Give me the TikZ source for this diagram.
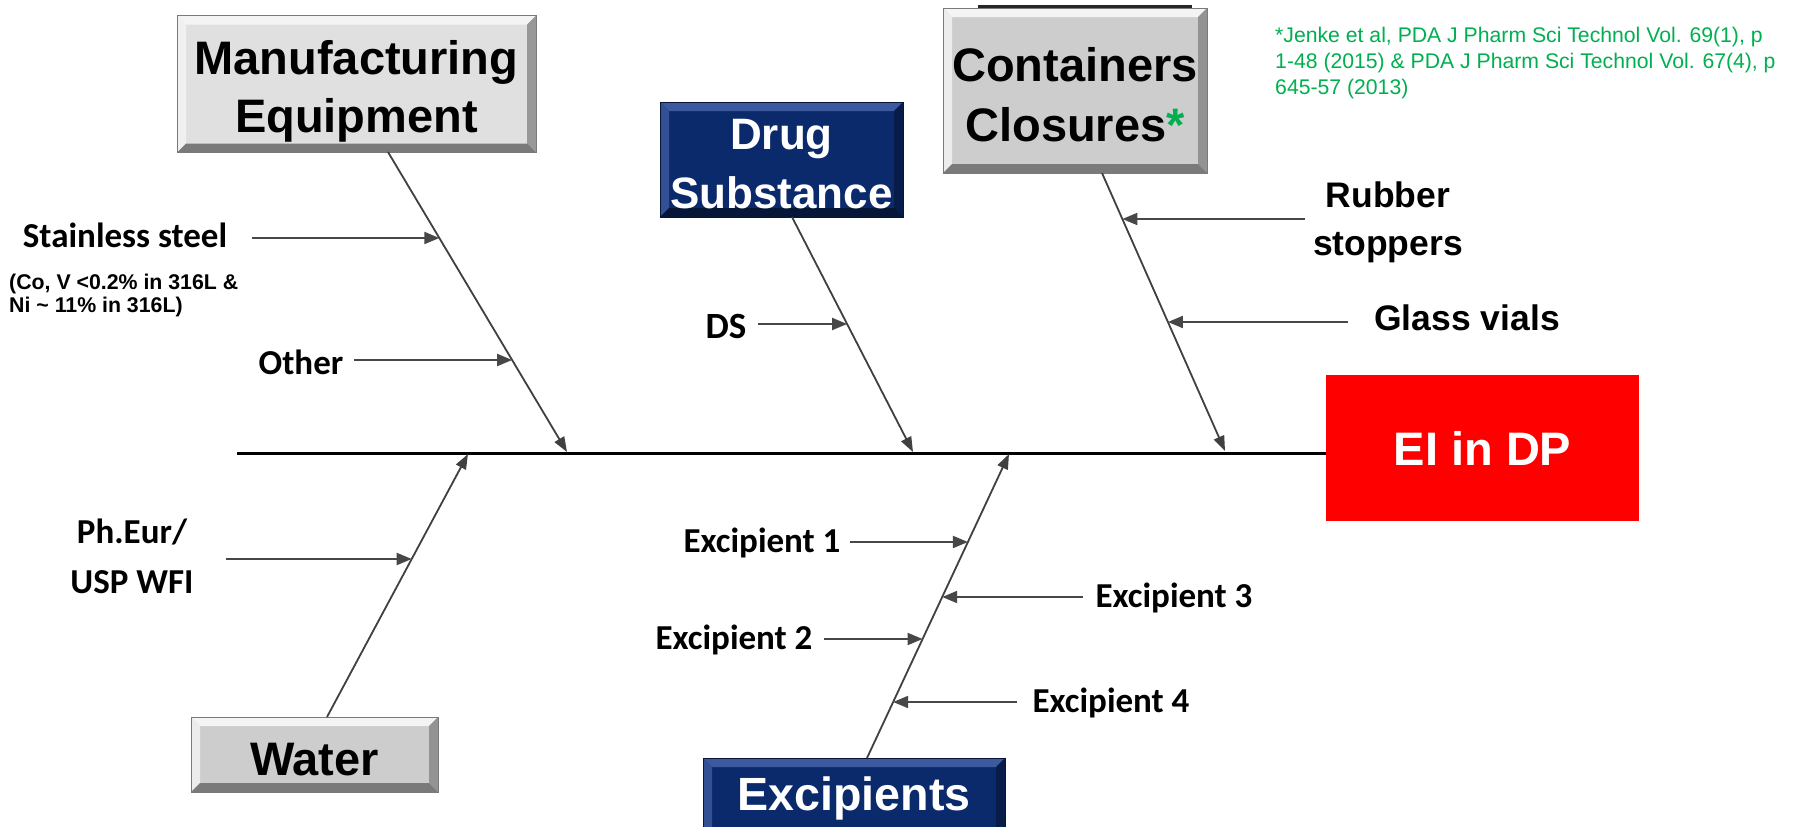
\documentclass[tikz,border=0pt]{standalone}
\usepackage{fontspec}
\setmainfont{Liberation Sans}
\newfontfamily\calib{Carlito}
\usetikzlibrary{arrows.meta,calc}
\definecolor{refgreen}{HTML}{00B050}
\definecolor{navy}{HTML}{0B2A6C}
\definecolor{navylight}{HTML}{3D5A9E}
\definecolor{navydark}{HTML}{061638}
\definecolor{grayface}{HTML}{CDCDCD}
\definecolor{grayfacel}{HTML}{E0E0E0}
\definecolor{graylight}{HTML}{F4F4F4}
\definecolor{graydark}{HTML}{7A7A7A}
\definecolor{eired}{HTML}{FF0000}
\newcommand\fs[2]{\fontsize{#1}{#2}\selectfont}
\newcommand\lift[1]{\rule{0pt}{#1}}
\tikzset{
  bevel/.style n args={3}{fill=#1, draw=#3, line width=1pt, align=center, inner sep=0pt,
    path picture={
      \fill[#2] (path picture bounding box.north west) -- (path picture bounding box.north east)
        -- ([xshift=-9pt,yshift=-9pt]path picture bounding box.north east)
        -- ([xshift=9pt,yshift=-9pt]path picture bounding box.north west) -- cycle;
      \fill[#2!80!#1] (path picture bounding box.north west) -- (path picture bounding box.south west)
        -- ([xshift=9pt,yshift=9pt]path picture bounding box.south west)
        -- ([xshift=9pt,yshift=-9pt]path picture bounding box.north west) -- cycle;
      \fill[#3!70!#1] (path picture bounding box.north east) -- (path picture bounding box.south east)
        -- ([xshift=-9pt,yshift=9pt]path picture bounding box.south east)
        -- ([xshift=-9pt,yshift=-9pt]path picture bounding box.north east) -- cycle;
      \fill[#3] (path picture bounding box.south west) -- (path picture bounding box.south east)
        -- ([xshift=-9pt,yshift=9pt]path picture bounding box.south east)
        -- ([xshift=9pt,yshift=9pt]path picture bounding box.south west) -- cycle;
    }},
  graybox/.style={bevel={#1}{graylight}{graydark}, text=black},
  bluebox/.style={bevel={navy}{navylight}{navydark}, text=white},
  lab/.style={inner sep=0pt, font=\calib\bfseries\fs{35}{50}, align=center},
  alab/.style={inner sep=0pt, font=\bfseries\fs{35.5}{48}, align=center},
  spine/.style={line width=3pt, black},
  branch/.style={line width=1.8pt, black!75, -{Triangle[length=15pt,width=11pt]}},
  sub/.style={line width=2pt, black!72, -{Triangle[length=15pt,width=12pt]}},
}
\begin{document}
\begin{tikzpicture}[x=1pt,y=-1pt]
\useasboundingbox (0,0) rectangle (1796,827);
\clip (0,0) rectangle (1796,827);
\fill[white] (0,0) rectangle (1796,827);

% boxes
\node[graybox=grayfacel, minimum width=359pt, minimum height=137pt, font=\bfseries\fs{47}{58}] (me) at (356.5,84) {\lift{48pt}Manufacturing\\Equipment};
\node[bluebox, minimum width=243pt, minimum height=115pt, font=\bfseries\fs{44}{59}] (ds) at (781.5,159.5) {\lift{39pt}Drug\\Substance};
\draw[line width=3pt, black!85] (978,6) -- (1192,6);
\node[graybox=grayface, minimum width=264pt, minimum height=165pt, font=\bfseries\fs{47}{59.5}] (cc) at (1075,90.5) {\lift{42pt}Containers\\Closures{\color{refgreen}*}};
\node[graybox=grayface, minimum width=247pt, minimum height=75pt, font=\bfseries\fs{47}{57}] (wa) at (314.5,754.5) {\lift{43pt}Water};
\node[bluebox, minimum width=302pt, minimum height=80pt, font=\bfseries\fs{46.6}{56}] (ex) at (854,798) {Excipients};
\node[fill=eired, minimum width=313pt, minimum height=146pt, inner sep=0pt, text=white, font=\bfseries\fs{47}{56}] (ei) at (1482.5,448) {EI in DP};

% citation
\node[anchor=north west, inner sep=0pt, align=left, text=refgreen, font=\fs{21.2}{26}] (cite) at (1275,27)
  {*Jenke et al, PDA J Pharm Sci Technol Vol. 69(1), p\\1-48 (2015) \& PDA J Pharm Sci Technol Vol. 67(4), p\\645-57 (2013)};

% spine
\coordinate (sp) at (237,453);
\draw[spine] (sp) -- (ei.west |- sp);

% branch end points
\coordinate (mA) at (388,152);  \coordinate (mB) at (567,452);
\coordinate (dA) at (792,217);  \coordinate (dB) at (913,452);
\coordinate (cA) at (1102,173); \coordinate (cB) at (1225,451);
\coordinate (wA) at (327,717);  \coordinate (wB) at (468,454);
\coordinate (eA) at (867,758);  \coordinate (eB) at (1009,454);

\draw[branch] (mA) -- (mB);
\draw[branch] (dA) -- (dB);
\draw[branch] (cA) -- (cB);
\draw[branch] (wA) -- (wB);
\draw[branch] (eA) -- (eB);

% tips on branches
\coordinate (tss) at ($(mA)!{(238-152)/300}!(mB)$);
\coordinate (tot) at ($(mA)!{(360-152)/300}!(mB)$);
\coordinate (tds) at ($(dA)!{(324-217)/235}!(dB)$);
\coordinate (trb) at ($(cA)!{(219-173)/278}!(cB)$);
\coordinate (tgl) at ($(cA)!{(322-173)/278}!(cB)$);
\coordinate (twf) at ($(wA)!{(717-559)/263}!(wB)$);
\coordinate (te1) at ($(eA)!{(758-542)/304}!(eB)$);
\coordinate (te3) at ($(eA)!{(758-597)/304}!(eB)$);
\coordinate (te2) at ($(eA)!{(758-639)/304}!(eB)$);
\coordinate (te4) at ($(eA)!{(758-702)/304}!(eB)$);

% labels
\node[lab] (ss) at (125,235) {Stainless steel};
\node[anchor=west, inner sep=0pt, align=left, font=\bfseries\fs{21.3}{23}] (ssn) at (9,295) {(Co, V <0.2\% in 316L \&\\Ni \textasciitilde{} 11\% in 316L)};
\node[lab] (ot) at (301,362) {Other};
\node[lab, font=\calib\bfseries\fs{37}{50}] (dsl) at (726,326) {DS};
\node[alab] (rb) at (1388,222) {Rubber\\stoppers};
\node[alab] (gl) at (1467,318) {Glass vials};
\node[lab] (wf) at (132,556) {Ph.Eur/\\USP WFI};
\node[lab] (e1) at (762,543) {Excipient 1};
\node[lab] (e3) at (1174,598) {Excipient 3};
\node[lab] (e2) at (734,640) {Excipient 2};
\node[lab] (e4) at (1111,703) {Excipient 4};

% sub arrows
\draw[sub] ([xshift=25pt]ss.east |- tss) -- (tss);
\draw[sub] ([xshift=10pt]ot.east |- tot) -- (tot);
\draw[sub] ([xshift=11pt]dsl.east |- tds) -- (tds);
\draw[sub] ([xshift=-8pt]rb.west |- trb) -- (trb);
\draw[sub] ([xshift=-26pt]gl.west |- tgl) -- (tgl);
\draw[sub] ([xshift=32pt]wf.east |- twf) -- (twf);
\draw[sub] ([xshift=9pt]e1.east |- te1) -- (te1);
\draw[sub] ([xshift=-12pt]e3.west |- te3) -- (te3);
\draw[sub] ([xshift=11pt]e2.east |- te2) -- (te2);
\draw[sub] ([xshift=-15pt]e4.west |- te4) -- (te4);
\end{tikzpicture}
\end{document}
